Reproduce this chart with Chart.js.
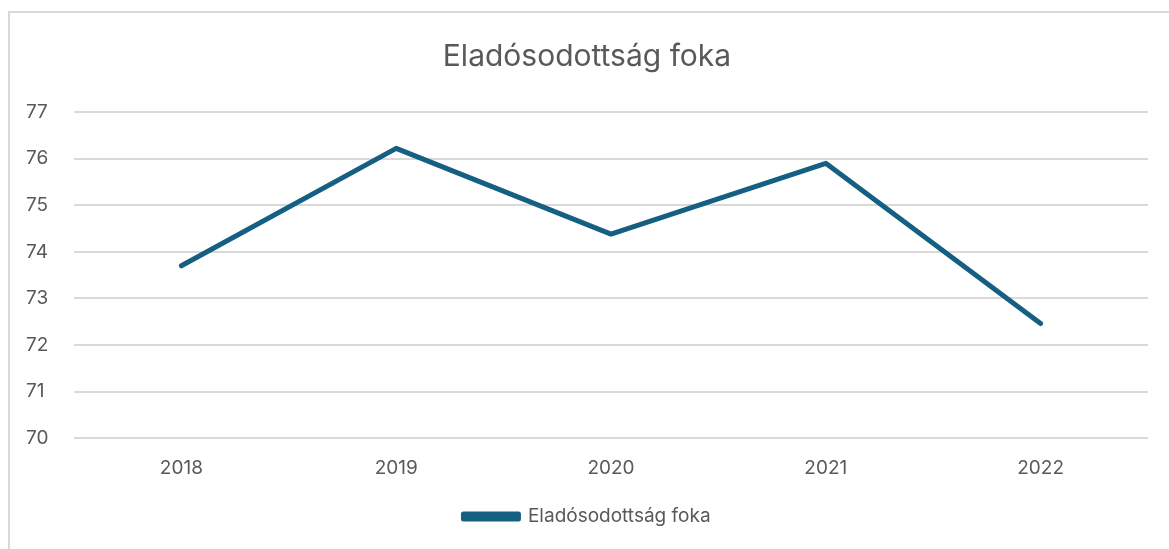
<!DOCTYPE html>
<html>
<head>
<meta charset="utf-8">
<script src="https://cdn.jsdelivr.net/npm/chart.js@4/dist/chart.umd.min.js"></script>
<style>
  html, body { margin: 0; padding: 0; background: #fff; overflow: hidden; }
  #frame {
    position: absolute; left: 8px; top: 11px; width: 1300px; height: 700px;
    border: 2px solid #d9d9d9; box-sizing: border-box;
  }
  #wrap { position: absolute; left: 0; top: 0; width: 1169px; height: 549px; }
</style>
</head>
<body>
<div id="frame"></div>
<div id="wrap"><canvas id="chart"></canvas></div>
<script>
// data
const years = ['2018', '2019', '2020', '2021', '2022'];
const debtLevel = [73.7, 76.22, 74.38, 75.9, 72.46];
const seriesName = 'Eladósodottság foka';
const chartTitle = 'Eladósodottság foka';

const textColor = '#595959';
const lineColor = '#156082';
const fontFamily = "Inter, 'Noto Sans', sans-serif";

Chart.defaults.font.family = fontFamily;
Chart.defaults.color = textColor;

new Chart(document.getElementById('chart'), {
    type: 'line',
    data: {
        labels: years,
        datasets: [{
            label: seriesName,
            data: debtLevel,
            borderColor: lineColor,
            backgroundColor: lineColor,
            borderWidth: 5,
            borderCapStyle: 'round',
            borderJoinStyle: 'round',
            pointRadius: 0,
            tension: 0
        }]
    },
    options: {
        responsive: true,
        maintainAspectRatio: false,
        animation: false,
        layout: { padding: { left: 26, right: 21, top: 39, bottom: 13 } },
        plugins: {
            title: {
                display: true,
                text: chartTitle,
                color: textColor,
                font: { size: 30, weight: 'normal' },
                padding: { top: 0, bottom: 37 }
            },
            legend: {
                position: 'bottom',
                labels: {
                    boxWidth: 55,
                    boxHeight: 5,
                    color: textColor,
                    font: { size: 19 },
                    padding: 16
                }
            },
            tooltip: { enabled: false }
        },
        scales: {
            x: {
                offset: true,
                grid: { display: false },
                border: { display: false },
                ticks: { font: { size: 19 }, color: textColor, padding: 11 }
            },
            y: {
                min: 70,
                max: 77,
                ticks: {
                    stepSize: 1,
                    font: { size: 19 },
                    color: textColor,
                    crossAlign: 'far',
                    padding: 0
                },
                grid: { color: '#d9d9d9', lineWidth: 2, drawTicks: false },
                border: { display: false },
                afterFit: (scale) => { scale.width = 48; }
            }
        }
    }
});
</script>
</body>
</html>
